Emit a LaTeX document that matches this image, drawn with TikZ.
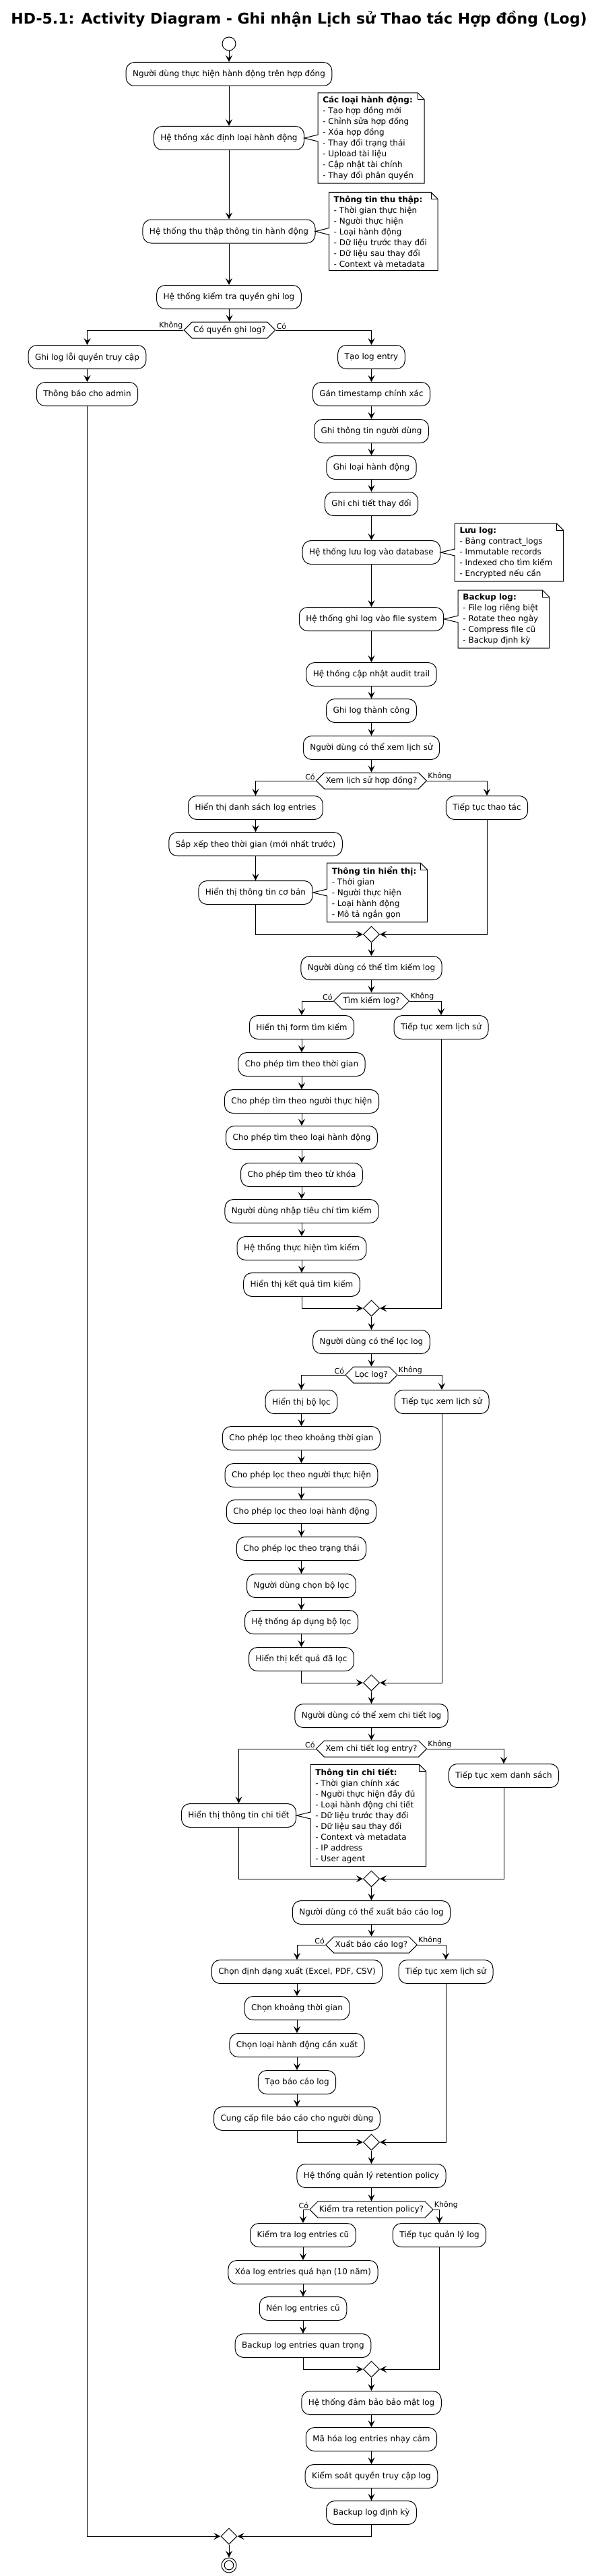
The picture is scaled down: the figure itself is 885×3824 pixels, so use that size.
\documentclass[tikz,border=0pt]{standalone}
\usepackage{fontspec}
\setmainfont{DejaVu Sans}
\usepackage{tikz}
\usetikzlibrary{positioning,shapes.geometric,shapes.symbols,arrows.meta}

\begin{document}
\begin{tikzpicture}[x=1pt,y=-1pt,
  act/.style={draw,rounded corners=12.5pt,line width=1pt,fill=white,font=\fontsize{12}{14}\selectfont,inner xsep=10pt,inner ysep=0pt,minimum height=35pt},
  dec/.style={draw,shape=signal,signal to=west and east,signal pointer angle=90,line width=1pt,fill=white,font=\fontsize{12}{14}\selectfont,inner xsep=2pt,inner ysep=0pt,minimum height=24pt},
  merge/.style={draw,diamond,line width=1pt,fill=white,minimum size=24pt,inner sep=0pt},
  note/.style={align=left,font=\fontsize{12}{16}\selectfont,inner xsep=7pt,inner ysep=5pt},
  noteline/.style={line width=1pt},
  flow/.style={line width=1pt,-{Stealth[length=10pt,width=10pt,inset=4pt]}},
  ans/.style={font=\fontsize{11}{13}\selectfont,inner sep=1pt}]
\useasboundingbox (0,0) rectangle (885,3824);

% Title
\node[font=\bfseries\fontsize{22}{26}\selectfont] (title) at (444,28) {HD-5.1: Activity Diagram - Ghi nhận Lịch sử Thao tác Hợp đồng (Log)};

% Start and logging
\node[draw,circle,line width=1pt,minimum size=20pt,inner sep=0pt] (start) at (340,65) {};
\node[act] (a1) at (340,110) {Người dùng thực hiện hành động trên hợp đồng};
\node[act] (a2) at (340,205) {Hệ thống xác định loại hành động};
\node[act] (a3) at (340,343.5) {Hệ thống thu thập thông tin hành động};
\node[act] (a4) at (340,441) {Hệ thống kiểm tra quyền ghi log};
\node[dec] (d1) at (341,490) {Có quyền ghi log?};
\node[act] (e1) at (129.5,530) {Ghi log lỗi quyền truy cập};
\node[act] (e2) at (129.5,585) {Thông báo cho admin};
\node[act] (b1) at (551.5,530) {Tạo log entry};
\node[act] (b2) at (551.5,585) {Gán timestamp chính xác};
\node[act] (b3) at (551.5,640) {Ghi thông tin người dùng};
\node[act] (b4) at (551.5,694) {Ghi loại hành động};
\node[act] (b5) at (551.5,748) {Ghi chi tiết thay đổi};
\node[act] (b6) at (551.5,820) {Hệ thống lưu log vào database};
\node[act] (b7) at (551.5,919) {Hệ thống ghi log vào file system};
\node[act] (b8) at (551.5,1001) {Hệ thống cập nhật audit trail};
\node[act] (b9) at (551.5,1055) {Ghi log thành công};

% View history
\node[act] (b10) at (551.5,1110) {Người dùng có thể xem lịch sử};
\node[dec] (d2) at (551.5,1159) {Xem lịch sử hợp đồng?};
\node[act] (v1) at (379.5,1199) {Hiển thị danh sách log entries};
\node[act] (v2) at (379.5,1253) {Sắp xếp theo thời gian (mới nhất trước)};
\node[act] (v3) at (379.5,1325) {Hiển thị thông tin cơ bản};
\node[act] (v4) at (723,1199) {Tiếp tục thao tác};
\node[merge] (m1) at (551.5,1387) {};

% Search
\node[act] (s0) at (551.5,1437) {Người dùng có thể tìm kiếm log};
\node[dec] (d3) at (551.5,1486) {Tìm kiếm log?};
\node[act] (s1) at (448,1525) {Hiển thị form tìm kiếm};
\node[act] (s2) at (448,1580) {Cho phép tìm theo thời gian};
\node[act] (s3) at (448,1635) {Cho phép tìm theo người thực hiện};
\node[act] (s4) at (448,1689) {Cho phép tìm theo loại hành động};
\node[act] (s5) at (448,1744) {Cho phép tìm theo từ khóa};
\node[act] (s6) at (448,1798) {Người dùng nhập tiêu chí tìm kiếm};
\node[act] (s7) at (448,1853) {Hệ thống thực hiện tìm kiếm};
\node[act] (s8) at (448,1907) {Hiển thị kết quả tìm kiếm};
\node[act] (s9) at (655,1525) {Tiếp tục xem lịch sử};
\node[merge] (m2) at (551.5,1942) {};

% Filter
\node[act] (f0) at (551.5,1992) {Người dùng có thể lọc log};
\node[dec] (d4) at (551.5,2041) {Lọc log?};
\node[act] (f1) at (447.5,2081) {Hiển thị bộ lọc};
\node[act] (f2) at (447.5,2135) {Cho phép lọc theo khoảng thời gian};
\node[act] (f3) at (447.5,2190) {Cho phép lọc theo người thực hiện};
\node[act] (f4) at (447.5,2244) {Cho phép lọc theo loại hành động};
\node[act] (f5) at (447.5,2299) {Cho phép lọc theo trạng thái};
\node[act] (f6) at (447.5,2354) {Người dùng chọn bộ lọc};
\node[act] (f7) at (447.5,2408) {Hệ thống áp dụng bộ lọc};
\node[act] (f8) at (447.5,2463) {Hiển thị kết quả đã lọc};
\node[act] (f9) at (656,2081) {Tiếp tục xem lịch sử};
\node[merge] (m3) at (551.5,2498) {};

% Detail
\node[act] (c0) at (551.5,2547) {Người dùng có thể xem chi tiết log};
\node[dec] (d5) at (551.5,2596) {Xem chi tiết log entry?};
\node[act] (c1) at (354.5,2695) {Hiển thị thông tin chi tiết};
\node[act] (c2) at (748,2636) {Tiếp tục xem danh sách};
\node[merge] (m4) at (551.5,2789) {};

% Export
\node[act] (x0) at (551.5,2839) {Người dùng có thể xuất báo cáo log};
\node[dec] (d6) at (551.5,2887) {Xuất báo cáo log?};
\node[act] (x1) at (441,2927) {Chọn định dạng xuất (Excel, PDF, CSV)};
\node[act] (x2) at (441,2981) {Chọn khoảng thời gian};
\node[act] (x3) at (441,3036) {Chọn loại hành động cần xuất};
\node[act] (x4) at (441,3091) {Tạo báo cáo log};
\node[act] (x5) at (441,3145) {Cung cấp file báo cáo cho người dùng};
\node[act] (x6) at (662,2927) {Tiếp tục xem lịch sử};
\node[merge] (m5) at (551.5,3180) {};

% Retention
\node[act] (r0) at (551.5,3230) {Hệ thống quản lý retention policy};
\node[dec] (d7) at (551.5,3280) {Kiểm tra retention policy?};
\node[act] (r1) at (450,3318) {Kiểm tra log entries cũ};
\node[act] (r2) at (450,3373) {Xóa log entries quá hạn (10 năm)};
\node[act] (r3) at (450,3427) {Nén log entries cũ};
\node[act] (r4) at (450,3482) {Backup log entries quan trọng};
\node[act] (r5) at (652.5,3318) {Tiếp tục quản lý log};
\node[merge] (m6) at (551.5,3517) {};

% Security and end
\node[act] (k1) at (551.5,3567) {Hệ thống đảm bảo bảo mật log};
\node[act] (k2) at (551.5,3621) {Mã hóa log entries nhạy cảm};
\node[act] (k3) at (551.5,3676) {Kiểm soát quyền truy cập log};
\node[act] (k4) at (551.5,3730) {Backup log định kỳ};
\node[merge] (m7) at (340,3765) {};
\node[draw,circle,line width=1pt,minimum size=22pt,inner sep=0pt] (stop) at (340,3808) {};
\draw[line width=1pt] (stop.center) circle (6.8pt);

% Notes
\node[note,right=20pt of a2] (n1) {\textbf{Các loại hành động:}\\- Tạo hợp đồng mới\\- Chỉnh sửa hợp đồng\\- Xóa hợp đồng\\- Thay đổi trạng thái\\- Upload tài liệu\\- Cập nhật tài chính\\- Thay đổi phân quyền};
\node[note,right=20pt of a3] (n2) {\textbf{Thông tin thu thập:}\\- Thời gian thực hiện\\- Người thực hiện\\- Loại hành động\\- Dữ liệu trước thay đổi\\- Dữ liệu sau thay đổi\\- Context và metadata};
\node[note,right=21pt of b6] (n3) {\textbf{Lưu log:}\\- Bảng contract\_logs\\- Immutable records\\- Indexed cho tìm kiếm\\- Encrypted nếu cần};
\node[note,right=21pt of b7] (n4) {\textbf{Backup log:}\\- File log riêng biệt\\- Rotate theo ngày\\- Compress file cũ\\- Backup định kỳ};
\node[note,right=21pt of v3] (n5) {\textbf{Thông tin hiển thị:}\\- Thời gian\\- Người thực hiện\\- Loại hành động\\- Mô tả ngắn gọn};
\node[note,right=21pt of c1] (n6) {\textbf{Thông tin chi tiết:}\\- Thời gian chính xác\\- Người thực hiện đầy đủ\\- Loại hành động chi tiết\\- Dữ liệu trước thay đổi\\- Dữ liệu sau thay đổi\\- Context và metadata\\- IP address\\- User agent};
\foreach \n/\b in {n1/a2,n2/a3,n3/b6,n4/b7,n5/v3,n6/c1}{
  \draw[noteline] (\n.north west) -- ([xshift=-1pt]\n.north east) -- ([xshift=9pt,yshift=-10pt]\n.north east) -- ([xshift=9pt]\n.south east) -- (\n.south west) -- ([yshift=-5pt]\n.west) -- (\b.east) -- ([yshift=5pt]\n.west) -- cycle;
  \draw[noteline] ([xshift=-1pt]\n.north east) -- ([xshift=-1pt,yshift=-10pt]\n.north east) -- ([xshift=9pt,yshift=-10pt]\n.north east);
}

% Straight flows
\foreach \p/\q in {start/a1,a1/a2,a2/a3,a3/a4,a4/d1,e1/e2,b1/b2,b2/b3,b3/b4,b4/b5,b5/b6,b6/b7,b7/b8,b8/b9,b9/b10,b10/d2,
  v1/v2,v2/v3,m1/s0,s0/d3,s1/s2,s2/s3,s3/s4,s4/s5,s5/s6,s6/s7,s7/s8,m2/f0,f0/d4,f1/f2,f2/f3,f3/f4,f4/f5,f5/f6,f6/f7,f7/f8,
  m3/c0,c0/d5,m4/x0,x0/d6,x1/x2,x2/x3,x3/x4,x4/x5,m5/r0,r0/d7,r1/r2,r2/r3,r3/r4,m6/k1,k1/k2,k2/k3,k3/k4,m7/stop}
  \draw[flow] (\p) -- (\q);

% Branches
\draw[flow] (d1.west) -| (e1);
\draw[flow] (d1.east) -| (b1);
\node[ans,anchor=south east] (l1) at (d1.west) {Không};
\node[ans,anchor=south west] (l2) at (d1.east) {Có};
\foreach \d/\l/\r in {d2/v1/v4,d3/s1/s9,d4/f1/f9,d5/c1/c2,d6/x1/x6,d7/r1/r5}{
  \draw[flow] (\d.west) -| (\l);
  \draw[flow] (\d.east) -| (\r);
  \node[ans,anchor=south east] at (\d.west) {Có};
  \node[ans,anchor=south west] at (\d.east) {Không};
}

% Merges
\foreach \l/\r/\m in {v3/v4/m1,s8/s9/m2,f8/f9/m3,c1/c2/m4,x5/x6/m5,r4/r5/m6,e2/k4/m7}{
  \draw[flow] (\l) |- (\m);
  \draw[flow] (\r) |- (\m);
}
\end{tikzpicture}
\end{document}
